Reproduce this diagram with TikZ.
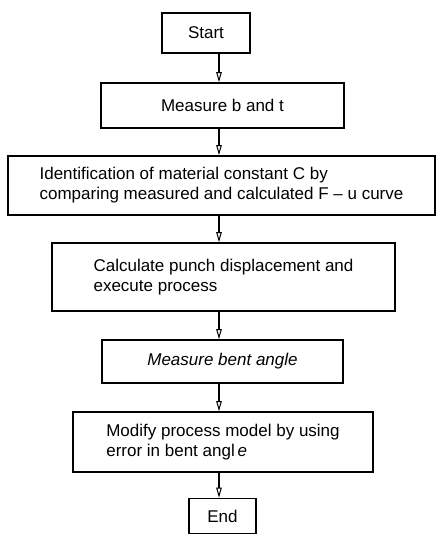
\documentclass[tikz,border=0pt]{standalone}
\usepackage{fontspec}
\setmainfont{Liberation Sans}
\usetikzlibrary{arrows.meta}
\begin{document}
\begin{tikzpicture}[x=1pt,y=-1pt,
  box/.style={draw=black, line width=1.6pt, inner sep=0pt, font=\fontsize{17}{20}\selectfont, align=left},
  arr/.style={line width=1.3pt, -{Triangle[open,length=10pt,width=5.5pt,line width=1pt]}}]
\useasboundingbox[fill=white] (0,0) rectangle (436,536);
\coordinate (ax) at (219,0);
\node[box, minimum width=88pt, minimum height=40pt] (start) at (206,33) {Start};
\node[box, minimum width=243pt, minimum height=45pt] (meas) at (222.5,105.5) {Measure b and t};
\node[box, minimum width=427pt, minimum height=59pt] (ident) at (221.5,185.5)
  {Identification of material constant C by\\comparing measured and calculated F – u curve};
\node[box, minimum width=343pt, minimum height=68pt] (calc) at (223.5,277)
  {Calculate punch displacement and\\execute process};
\node[box, minimum width=241pt, minimum height=43pt] (bent) at (222.5,361.5)
  {\itshape Measure bent angle};
\node[box, minimum width=300pt, minimum height=60pt] (modify) at (223,442)
  {Modify process model by using\\error in bent angl\,{\itshape e}};
\node[box, minimum width=67pt, minimum height=35pt] (end) at (222.5,516) {End};
\draw[arr] (start.south -| ax) -- (meas.north -| ax);
\draw[arr] (meas.south -| ax) -- (ident.north -| ax);
\draw[arr] (ident.south -| ax) -- (calc.north -| ax);
\draw[arr] (calc.south -| ax) -- (bent.north -| ax);
\draw[arr] (bent.south -| ax) -- (modify.north -| ax);
\draw[arr] (modify.south -| ax) -- (end.north -| ax);
\end{tikzpicture}
\end{document}
